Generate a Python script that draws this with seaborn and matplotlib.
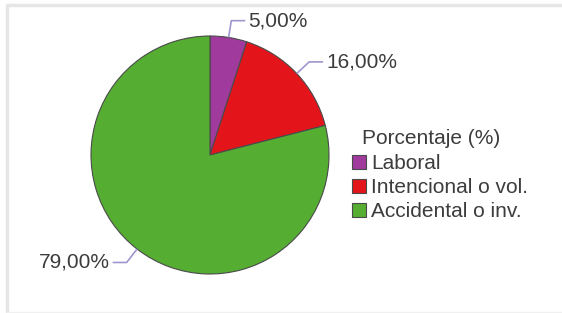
import numpy as np
import matplotlib
matplotlib.use("Agg")
import matplotlib.pyplot as plt
from matplotlib.lines import Line2D
import seaborn as sns

categories = ["Laboral", "Intencional o vol.", "Accidental o inv."]
values = [5.0, 16.0, 79.0]
colors = ["#a03a9c", "#e3151b", "#55ad32"]
legend_title = "Porcentaje (%)"

sns.set_theme(style="white")
plt.rcParams['font.family'] = ['Liberation Sans', 'DejaVu Sans']

W, H = 562, 313
fig = plt.figure(figsize=(W / 100, H / 100), dpi=100)
ax = fig.add_axes([0, 0, 1, 1])

cx, cy, R = 210, H - 155, 119
wedges, _ = ax.pie(values, colors=colors, startangle=90, counterclock=False,
                   center=(cx, cy), radius=R, frame=True,
                   wedgeprops=dict(edgecolor="#4a4a4a", linewidth=0.8))
ax.set_xlim(0, W)
ax.set_ylim(0, H)
ax.set_aspect('equal')
ax.axis('off')

line_color = "#9d97cf"
text_color = "#3c3c3c"
fs = 15
for w, v in zip(wedges, values):
    th = np.deg2rad((w.theta1 + w.theta2) / 2)
    x0, y0 = cx + R * np.cos(th), cy + R * np.sin(th)
    x1, y1 = cx + (R + 17) * np.cos(th), cy + (R + 17) * np.sin(th)
    sgn = 1 if np.cos(th) >= 0 else -1
    x2 = x1 + sgn * 14
    ax.plot([x0, x1, x2], [y0, y1, y1], color=line_color, lw=1.2,
            solid_capstyle='butt')
    label = f"{v:.2f}".replace('.', ',') + '%'
    ax.text(x2 + sgn * 3, y1, label, ha='left' if sgn > 0 else 'right',
            va='center', fontsize=fs, color=text_color)

leg = ax.legend(wedges, categories,
                loc='upper left', bbox_to_anchor=(352 / W, 1 - 154 / H),
                bbox_transform=fig.transFigure,
                frameon=False, fontsize=fs,
                handlelength=0.68, handleheight=0.68, handletextpad=0.25,
                labelspacing=0.25, borderaxespad=0, borderpad=0)
for t in leg.get_texts():
    t.set_color(text_color)
ax.text(362, H - 138, legend_title, ha='left', va='center', fontsize=fs,
        color=text_color)

frame_c = "#e6e6e6"
fig.add_artist(Line2D([7 / W, 7 / W], [0, 1 - 5 / H], transform=fig.transFigure,
                      color=frame_c, lw=2.5))
fig.add_artist(Line2D([7 / W, 1], [1 - 5 / H, 1 - 5 / H], transform=fig.transFigure,
                      color=frame_c, lw=2.5))
fig.add_artist(Line2D([7 / W, 1], [1 - 311.5 / H, 1 - 311.5 / H], transform=fig.transFigure,
                      color="#f0f0f0", lw=1))

fig.savefig("out.png", dpi=100)
